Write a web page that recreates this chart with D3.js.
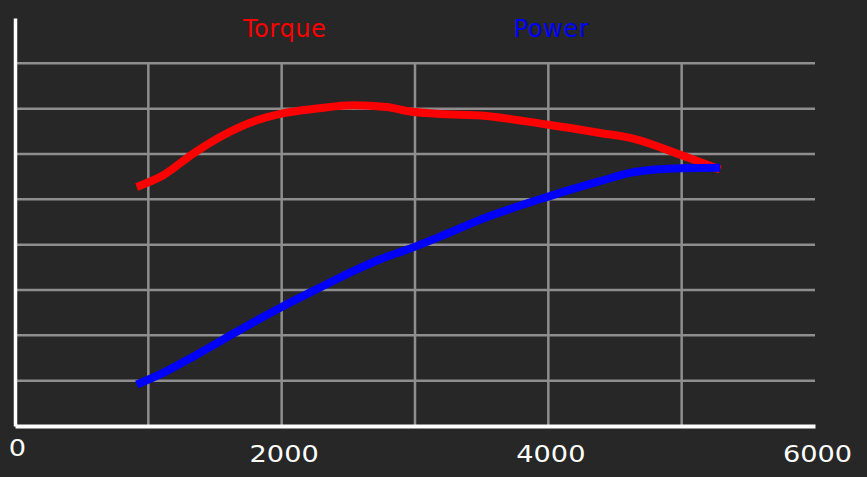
<!DOCTYPE html>
<html><head><meta charset="utf-8">
<script src="https://cdn.jsdelivr.net/npm/d3@7"></script>
<style>html,body{margin:0;padding:0;background:#272727;}svg{display:block;}</style>
</head><body>
<script>
const rpm = [913, 1112, 1337, 1562, 1813, 2000, 2263, 2537, 2788, 2938, 3238, 3463, 3988, 4388, 4637, 5000, 5288];
const torque = [263.7, 276.6, 300.5, 320.7, 337.2, 344.6, 350.1, 353.7, 351.8, 347.4, 343.8, 342.7, 332.5, 323.2, 317.0, 298.6, 282.9];
const power = [45.8, 58.6, 76.5, 95.4, 116.4, 131.2, 150.9, 170.9, 186.8, 194.3, 212.0, 226.0, 252.5, 270.0, 279.9, 284.3, 284.8];
const xTicks = [0, 2000, 4000, 6000];
const xGrid = [1000, 2000, 3000, 4000, 5000];
const yGrid = [50, 100, 150, 200, 250, 300, 350, 400];
const seriesNames = ["Torque", "Power"];
const seriesColors = ["#ff0000", "#0000ff"];
const titleX = [2000, 4000];

const W = 867, H = 477;
const svg = d3.select("body").append("svg").attr("width", W).attr("height", H);
svg.append("rect").attr("width", W).attr("height", H).attr("fill", "#272727");

const x = d3.scaleLinear().domain([0, 6000]).range([15, 815]);
const y = d3.scaleLinear().domain([0, 450]).range([426, 18]);

// grid
svg.append("g").selectAll("line").data(yGrid).join("line")
  .attr("x1", x(0)).attr("x2", x(6000))
  .attr("y1", d => y(d)).attr("y2", d => y(d))
  .attr("stroke", "#8e8e8e").attr("stroke-width", 2.5);
svg.append("g").selectAll("line").data(xGrid).join("line")
  .attr("x1", d => x(d)).attr("x2", d => x(d))
  .attr("y1", y(400)).attr("y2", y(0))
  .attr("stroke", "#8e8e8e").attr("stroke-width", 2.5);

// axes
const xAxis = d3.axisBottom(x).tickValues(xTicks).tickSize(0).tickPadding(0).tickFormat(d3.format("d"));
const gx = svg.append("g").attr("transform", `translate(0,${y(0)})`).call(xAxis);
gx.select(".domain").attr("stroke", "#ffffff").attr("stroke-width", 4);
gx.selectAll("text")
  .attr("fill", "#ffffff").attr("font-family", "DejaVu Sans").attr("font-size", 23)
  .attr("dy", null)
  .attr("y", d => d === 0 ? 30 : 36)
  .attr("x", 2)
  .attr("textLength", d => String(d).length * 17.3)
  .attr("lengthAdjust", "spacingAndGlyphs");

const yAxis = d3.axisLeft(y).tickValues([]).tickSize(0);
const gy = svg.append("g").attr("transform", `translate(${x(0)},0)`).call(yAxis);
gy.select(".domain").attr("stroke", "#ffffff").attr("stroke-width", 3.5);

// lines
const line = d3.line().x(d => x(d[0])).y(d => y(d[1])).curve(d3.curveMonotoneX);
const tData = rpm.map((r, i) => [r, torque[i]]);
const pData = rpm.map((r, i) => [r, power[i]]);
[tData, pData].forEach((data, i) => {
  svg.append("path").datum(data).attr("d", line)
    .attr("fill", "none").attr("stroke", seriesColors[i]).attr("stroke-width", 8);
});

// titles
svg.append("g").selectAll("text").data(seriesNames).join("text")
  .attr("x", (d, i) => x(titleX[i]) + 3).attr("y", 37)
  .attr("text-anchor", "middle").attr("fill", (d, i) => seriesColors[i])
  .attr("font-family", "DejaVu Sans").attr("font-size", 24)
  .attr("letter-spacing", 0.6)
  .text(d => d);
</script>
</body></html>
